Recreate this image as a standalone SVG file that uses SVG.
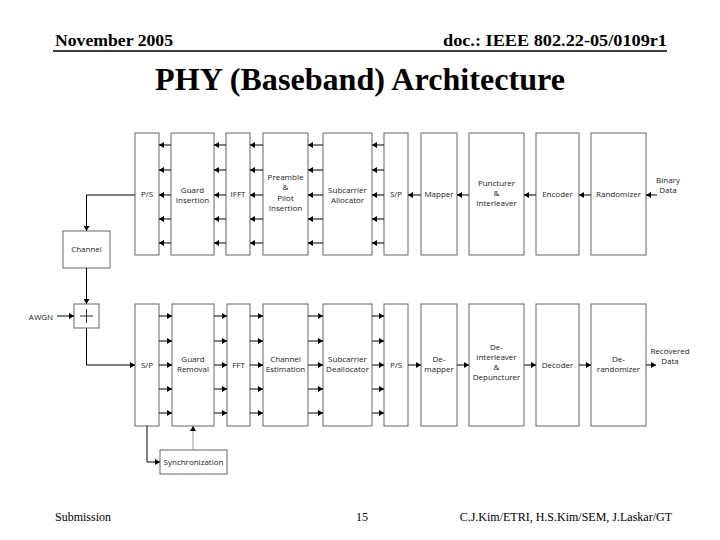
<svg xmlns="http://www.w3.org/2000/svg" width="720" height="540" viewBox="0 0 720 540">
<defs>
<marker id="ah" markerWidth="6" markerHeight="6" refX="5" refY="3" orient="auto" markerUnits="userSpaceOnUse"><path d="M0,0 L5,3 L0,6 Z" fill="#000"/></marker>
<style>
.b{fill:#fff;stroke:#666;stroke-width:1}
.t{font-family:"Open Sans","DejaVu Sans",sans-serif;font-size:8px;fill:#222;text-anchor:middle}
.c path{fill:none;stroke:#000;stroke-width:1;marker-end:url(#ah)}
.h{font-family:"Liberation Serif",serif;font-weight:bold;fill:#000}
</style>
</defs>
<rect width="720" height="540" fill="#fff"/>
<text class="h" x="55" y="46" font-size="17" textLength="118" lengthAdjust="spacingAndGlyphs">November 2005</text>
<text class="h" x="443" y="46" font-size="17" textLength="224" lengthAdjust="spacingAndGlyphs">doc.: IEEE 802.22-05/0109r1</text>
<line x1="53" y1="51" x2="667" y2="51" stroke="#000" stroke-width="1.5"/>
<text class="h" x="155" y="90" font-size="31" textLength="410" lengthAdjust="spacingAndGlyphs">PHY (Baseband) Architecture</text>

<g id="ps_tx"><rect class="b" x="135" y="133" width="24" height="122"/><text class="t" x="147" y="197">P/S</text></g>
<g id="guard_ins"><rect class="b" x="171" y="133" width="43" height="122"/><text class="t" x="192.5" y="193">Guard</text><text class="t" x="192.5" y="203">Insertion</text></g>
<g id="ifft"><rect class="b" x="226" y="133" width="24" height="122"/><text class="t" x="238" y="197">IFFT</text></g>
<g id="preamble"><rect class="b" x="263" y="133" width="45" height="122"/><text class="t" x="285.5" y="180">Preamble</text><text class="t" x="285.5" y="190">&amp;</text><text class="t" x="285.5" y="201">Pilot</text><text class="t" x="285.5" y="211">Insertion</text></g>
<g id="sub_alloc"><rect class="b" x="323" y="133" width="49" height="122"/><text class="t" x="347.5" y="193">Subcarrier</text><text class="t" x="347.5" y="203">Allocator</text></g>
<g id="sp_tx"><rect class="b" x="384" y="133" width="24" height="122"/><text class="t" x="396" y="197">S/P</text></g>
<g id="mapper"><rect class="b" x="421" y="133" width="36" height="122"/><text class="t" x="439" y="197">Mapper</text></g>
<g id="puncturer"><rect class="b" x="469" y="133" width="55" height="122"/><text class="t" x="496.5" y="186">Puncturer</text><text class="t" x="496.5" y="196">&amp;</text><text class="t" x="496.5" y="206">Interleaver</text></g>
<g id="encoder"><rect class="b" x="536" y="133" width="43" height="122"/><text class="t" x="557.5" y="197">Encoder</text></g>
<g id="randomizer"><rect class="b" x="591" y="133" width="55" height="122"/><text class="t" x="618.5" y="197">Randomizer</text></g>
<g id="binary"><text class="t" x="668" y="183">Binary</text><text class="t" x="668" y="193">Data</text></g>

<g id="channel"><rect class="b" x="63" y="231" width="47" height="37"/><text class="t" x="86.5" y="252">Channel</text></g>
<g id="adder"><rect class="b" x="74" y="304" width="25" height="24"/><path d="M80,316 H93 M86.5,309 V323" stroke="#000" stroke-width="0.8"/></g>
<g id="awgn"><text class="t" x="41" y="320">AWGN</text></g>

<g id="sp_rx"><rect class="b" x="135" y="304" width="24" height="122"/><text class="t" x="147" y="368">S/P</text></g>
<g id="guard_rem"><rect class="b" x="172" y="304" width="42" height="122"/><text class="t" x="193" y="362">Guard</text><text class="t" x="193" y="372">Removal</text></g>
<g id="fft"><rect class="b" x="227" y="304" width="23" height="122"/><text class="t" x="238.5" y="368">FFT</text></g>
<g id="chest"><rect class="b" x="263" y="304" width="45" height="122"/><text class="t" x="285.5" y="362">Channel</text><text class="t" x="285.5" y="372">Estimation</text></g>
<g id="sub_dealloc"><rect class="b" x="323" y="304" width="49" height="122"/><text class="t" x="347.5" y="362">Subcarrier</text><text class="t" x="347.5" y="372">Deallocator</text></g>
<g id="ps_rx"><rect class="b" x="384" y="304" width="24" height="122"/><text class="t" x="396" y="368">P/S</text></g>
<g id="demapper"><rect class="b" x="421" y="304" width="36" height="122"/><text class="t" x="439" y="362">De-</text><text class="t" x="439" y="372">mapper</text></g>
<g id="deinterleaver"><rect class="b" x="469" y="304" width="55" height="122"/><text class="t" x="496.5" y="350">De-</text><text class="t" x="496.5" y="360">interleaver</text><text class="t" x="496.5" y="370">&amp;</text><text class="t" x="496.5" y="380">Depuncturer</text></g>
<g id="decoder"><rect class="b" x="536" y="304" width="43" height="122"/><text class="t" x="557.5" y="368">Decoder</text></g>
<g id="derandomizer"><rect class="b" x="591" y="304" width="55" height="122"/><text class="t" x="618.5" y="362">De-</text><text class="t" x="618.5" y="372">randomizer</text></g>
<g id="recovered"><text class="t" x="670" y="354">Recovered</text><text class="t" x="670" y="364">Data</text></g>
<g id="sync"><rect class="b" x="160" y="450" width="67" height="24"/><text class="t" x="193.5" y="465">Synchronization</text></g>

<g id="connectors" class="c">
<path d="M171,145 H159"/><path d="M171,170 H159"/><path d="M171,195 H159"/><path d="M171,219 H159"/><path d="M171,243 H159"/>
<path d="M226,145 H214"/><path d="M226,170 H214"/><path d="M226,195 H214"/><path d="M226,219 H214"/><path d="M226,243 H214"/>
<path d="M263,145 H250"/><path d="M263,170 H250"/><path d="M263,195 H250"/><path d="M263,219 H250"/><path d="M263,243 H250"/>
<path d="M323,145 H308"/><path d="M323,170 H308"/><path d="M323,195 H308"/><path d="M323,219 H308"/><path d="M323,243 H308"/>
<path d="M384,145 H372"/><path d="M384,170 H372"/><path d="M384,195 H372"/><path d="M384,219 H372"/><path d="M384,243 H372"/>
<path d="M421,195 H408"/><path d="M469,195 H457"/><path d="M536,195 H524"/><path d="M591,195 H579"/><path d="M657,195 H646"/>
<path d="M135,195 H86.5 V231"/>
<path d="M86.5,268 V304"/>
<path d="M57,316 H74"/>
<path d="M86.5,328 V365 H135"/>
<path d="M159,316 H172"/><path d="M159,341 H172"/><path d="M159,365 H172"/><path d="M159,389 H172"/><path d="M159,413 H172"/>
<path d="M214,316 H227"/><path d="M214,341 H227"/><path d="M214,365 H227"/><path d="M214,389 H227"/><path d="M214,413 H227"/>
<path d="M250,316 H263"/><path d="M250,341 H263"/><path d="M250,365 H263"/><path d="M250,389 H263"/><path d="M250,413 H263"/>
<path d="M308,316 H323"/><path d="M308,341 H323"/><path d="M308,365 H323"/><path d="M308,389 H323"/><path d="M308,413 H323"/>
<path d="M372,316 H384"/><path d="M372,341 H384"/><path d="M372,365 H384"/><path d="M372,389 H384"/><path d="M372,413 H384"/>
<path d="M408,365 H421"/><path d="M457,365 H469"/><path d="M524,365 H536"/><path d="M579,365 H591"/><path d="M646,365 H656"/>
<path d="M147,426 V462 H160"/>
<path d="M193,450 V426" style="stroke:#999"/>
</g>

<text x="55" y="521" font-family="Liberation Serif,serif" font-size="12">Submission</text>
<text x="362" y="521" font-family="Liberation Serif,serif" font-size="12" text-anchor="middle">15</text>
<text x="672" y="521" font-family="Liberation Serif,serif" font-size="12" text-anchor="end">C.J.Kim/ETRI, H.S.Kim/SEM, J.Laskar/GT</text>
</svg>
